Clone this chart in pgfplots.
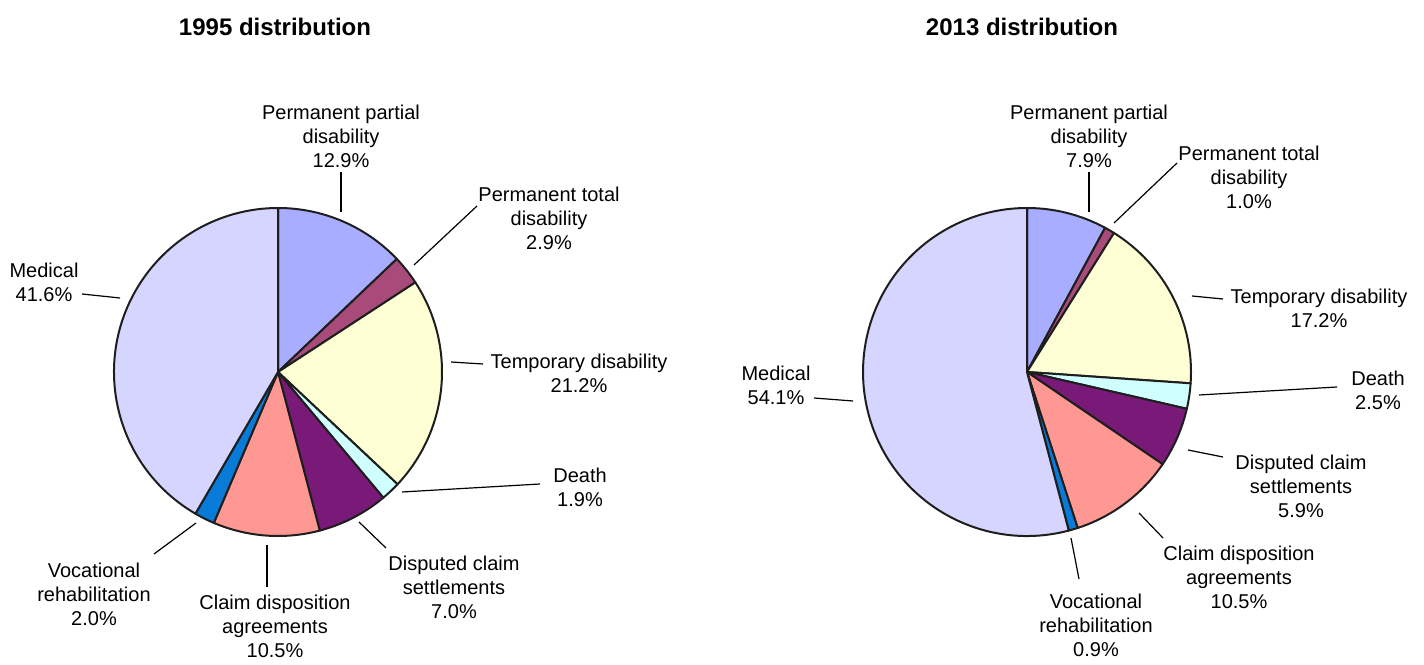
\documentclass[border=0pt]{standalone}
\usepackage{fontspec}
\setmainfont{Liberation Sans}
\usepackage{pgfplots}
\pgfplotsset{compat=1.18}
\definecolor{ppd}{RGB}{169,173,255}
\definecolor{ptd}{RGB}{168,75,122}
\definecolor{tmp}{RGB}{255,255,213}
\definecolor{dth}{RGB}{208,255,255}
\definecolor{dcs}{RGB}{122,26,120}
\definecolor{cda}{RGB}{255,152,146}
\definecolor{voc}{RGB}{8,122,216}
\definecolor{med}{RGB}{213,213,255}
\definecolor{pieline}{RGB}{30,30,30}
\newcommand\lab{\fontsize{10}{12}\selectfont}
\def\piecum{0}
\newcommand\pieslice[3]{%
  \pgfmathsetmacro\aone{90-3.6*\piecum}%
  \pgfmathsetmacro\atwo{90-3.6*(\piecum+#2)}%
  \pgfmathsetmacro\piecumnew{\piecum+#2}%
  \global\let\piecum\piecumnew
  \edef\doslice{\noexpand\filldraw[fill=#3,draw=pieline,line width=1pt,line join=round] (axis cs:#1) -- ++(\aone:82pt) arc[start angle=\aone,end angle=\atwo,radius=82pt] -- cycle;}%
  \doslice
}
\begin{document}
\begin{tikzpicture}
\begin{axis}[x=0.5pt,y=0.5pt,xmin=0,xmax=1424,ymin=0,ymax=658,y dir=reverse,
  hide axis,clip=false]
\addplot[draw=none,mark=none] coordinates {(0,0) (1424,658)};
\path (axis cs:0,0) rectangle (axis cs:1424,658);
% titles
\node[font=\bfseries\fontsize{12}{14}\selectfont] at (axis cs:275,27) {1995 distribution};
\node[font=\bfseries\fontsize{12}{14}\selectfont] at (axis cs:1022,27) {2013 distribution};
% 1995 pie
\gdef\piecum{0}
\pieslice{278,372}{12.9}{ppd}
\pieslice{278,372}{2.9}{ptd}
\pieslice{278,372}{21.2}{tmp}
\pieslice{278,372}{1.9}{dth}
\pieslice{278,372}{7.0}{dcs}
\pieslice{278,372}{10.5}{cda}
\pieslice{278,372}{2.0}{voc}
\pieslice{278,372}{41.6}{med}
% 2013 pie
\gdef\piecum{0}
\pieslice{1027,372}{7.9}{ppd}
\pieslice{1027,372}{1.0}{ptd}
\pieslice{1027,372}{17.2}{tmp}
\pieslice{1027,372}{2.5}{dth}
\pieslice{1027,372}{5.9}{dcs}
\pieslice{1027,372}{10.5}{cda}
\pieslice{1027,372}{0.9}{voc}
\pieslice{1027,372}{54.1}{med}
% 1995 labels
\node[align=center,font=\lab] at (axis cs:341,136) {Permanent partial\\disability\\12.9\%};
\draw[line width=0.6pt] (axis cs:341,172) -- (axis cs:341,212);
\node[align=center,font=\lab] at (axis cs:549,218) {Permanent total\\disability\\2.9\%};
\draw[line width=0.6pt] (axis cs:477,206) -- (axis cs:414,265);
\node[align=center,font=\lab] at (axis cs:44,282) {Medical\\41.6\%};
\draw[line width=0.6pt] (axis cs:82,294) -- (axis cs:120,298);
\node[align=center,font=\lab] at (axis cs:579,373) {Temporary disability\\21.2\%};
\draw[line width=0.6pt] (axis cs:451,362) -- (axis cs:483,364);
\node[align=center,font=\lab] at (axis cs:580,487) {Death\\1.9\%};
\draw[line width=0.6pt] (axis cs:402,492) -- (axis cs:540,484);
\node[align=center,font=\lab] at (axis cs:454,587) {Disputed claim\\settlements\\7.0\%};
\draw[line width=0.6pt] (axis cs:359,522) -- (axis cs:386,548);
\node[align=center,font=\lab] at (axis cs:275,626) {Claim disposition\\agreements\\10.5\%};
\draw[line width=0.6pt] (axis cs:267,545) -- (axis cs:267,587);
\node[align=center,font=\lab] at (axis cs:94,594) {Vocational\\rehabilitation\\2.0\%};
\draw[line width=0.6pt] (axis cs:154,554) -- (axis cs:196,523);
% 2013 labels
\node[align=center,font=\lab] at (axis cs:1089,136) {Permanent partial\\disability\\7.9\%};
\draw[line width=0.6pt] (axis cs:1089,172) -- (axis cs:1089,212);
\node[align=center,font=\lab] at (axis cs:1249,177) {Permanent total\\disability\\1.0\%};
\draw[line width=0.6pt] (axis cs:1177,163) -- (axis cs:1114,223);
\node[align=center,font=\lab] at (axis cs:1319,308) {Temporary disability\\17.2\%};
\draw[line width=0.6pt] (axis cs:1192,296) -- (axis cs:1223,299);
\node[align=center,font=\lab] at (axis cs:776,385) {Medical\\54.1\%};
\draw[line width=0.6pt] (axis cs:814,398) -- (axis cs:853,401);
\node[align=center,font=\lab] at (axis cs:1378,390) {Death\\2.5\%};
\draw[line width=0.6pt] (axis cs:1199,395) -- (axis cs:1337,387);
\node[align=center,font=\lab] at (axis cs:1301,486) {Disputed claim\\settlements\\5.9\%};
\draw[line width=0.6pt] (axis cs:1188,450) -- (axis cs:1223,457);
\node[align=center,font=\lab] at (axis cs:1239,577) {Claim disposition\\agreements\\10.5\%};
\draw[line width=0.6pt] (axis cs:1139,513) -- (axis cs:1163,538);
\node[align=center,font=\lab] at (axis cs:1096,625) {Vocational\\rehabilitation\\0.9\%};
\draw[line width=0.6pt] (axis cs:1071,538) -- (axis cs:1079,579);
\end{axis}
\end{tikzpicture}
\end{document}
